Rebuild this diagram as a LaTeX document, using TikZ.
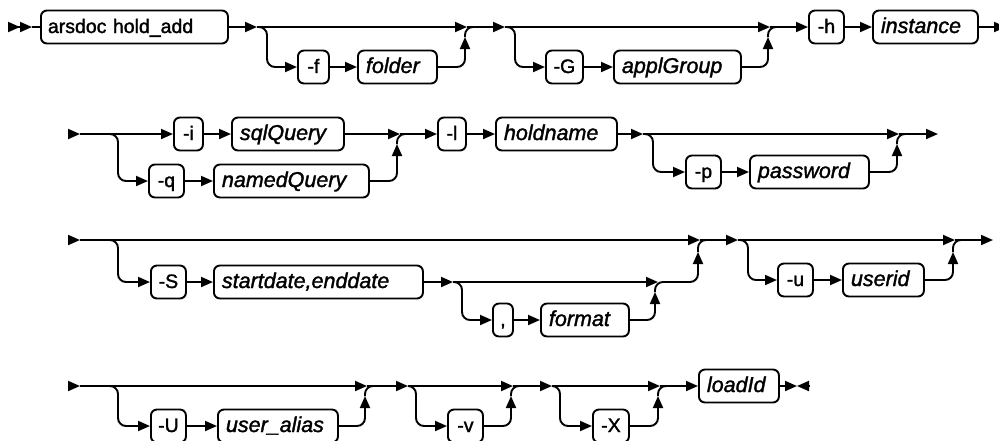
\documentclass[tikz,border=0pt]{standalone}
\usepackage{fontspec}
\setmainfont{Liberation Sans}[FakeBold=1.5]
\newfontfamily\railsf{Liberation Sans}[FakeBold=1.5]
\usetikzlibrary{arrows.meta}
\tikzset{
  rail/.style={line width=1.9pt},
  tip/.style={-{Triangle[length=12pt,width=10pt]}},
  box/.style={draw, line width=1.9pt, rounded corners=6pt, anchor=west, inner xsep=4pt,
    inner ysep=5.5pt, text height=17pt, text depth=5pt, font=\railsf\fontsize{19.5}{26}\selectfont},
  flag/.style={box, minimum width=#1},
  kw/.style={box, inner xsep=7pt, text width=#1, align=left},
  var/.style={box, inner xsep=8pt, text width=#1, align=left,
    font=\normalfont\fontsize{21.5}{26}\selectfont\itshape},
}
\newcommand{\drawrail}{\draw[rail]}
\newcommand{\drawtip}{\draw[rail,tip]}
\newcommand{\drawbend}{\draw[rail,tip,rounded corners=8pt]}
\newcommand{\drawarc}{\draw[rail,rounded corners=8pt]}
\begin{document}
\begin{tikzpicture}[x=1pt,y=-1pt]
\path[use as bounding box,fill=white] (0,0) rectangle (999,440);
% first row
\coordinate (s0) at (8,27); \coordinate (s1) at (32,27);
\coordinate (b1) at (257,27); \coordinate (c1) at (267,67);
\coordinate (u1) at (465,37); \coordinate (j1) at (467,27); \coordinate (k1) at (474,27);
\coordinate (b2) at (505,27); \coordinate (c2) at (515,67);
\coordinate (u2) at (768,37); \coordinate (j2) at (770,27); \coordinate (k2) at (777,27);
\coordinate (r1e) at (1006,27);
\node[kw=173pt] (cmd) at (40,27) {arsdoc hold\_add};
\node[flag=31pt] (f) at (297,67) {-f};
\node[var=63pt] (folder) at (357,67) {folder};
\node[flag=37pt] (G) at (545,67) {-G};
\node[var=111pt] (applGroup) at (613,67) {applGroup};
\node[flag=35pt] (h) at (808,27) {-h};
\node[var=89pt] (instance) at (872,27) {instance};
\draw[rail,-{Triangle[length=12pt,width=10pt]Triangle[length=12pt,width=10pt]}] (s0) -- (s1);
\drawrail (s1) -- (cmd.west);
\drawtip (cmd.east) -- (b1);
\drawtip (b1) -- (j1);
\drawbend (b1) -| (c1) -- (f.west);
\drawtip (f.east) -- (folder.west);
\drawbend (folder.east) -| (u1);
\drawarc (u1) |- (k1);
\drawtip (j1) -- (b2);
\drawtip (b2) -- (j2);
\drawbend (b2) -| (c2) -- (G.west);
\drawtip (G.east) -- (applGroup.west);
\drawbend (applGroup.east) -| (u2);
\drawarc (u2) |- (k2);
\drawtip (j2) -- (h.west);
\drawtip (h.east) -- (instance.west);
\drawtip (instance.east) -- (r1e);
% second row
\coordinate (r2s) at (68,134); \coordinate (r2a) at (80,134);
\coordinate (sp2) at (108,134); \coordinate (c3) at (118,181);
\coordinate (u3) at (397,144); \coordinate (j3) at (400,134); \coordinate (k3) at (406,134);
\coordinate (b4) at (643,134); \coordinate (c4) at (653,172);
\coordinate (u4) at (897,144); \coordinate (j4) at (899,134); \coordinate (k4) at (906,134);
\coordinate (r2e) at (938,134);
\node[flag=29pt] (i) at (173,134) {-i};
\node[var=96pt] (sqlQuery) at (231,134) {sqlQuery};
\node[flag=35pt] (q) at (148,181) {-q};
\node[var=139pt] (namedQuery) at (213,181) {namedQuery};
\node[flag=28pt] (l) at (437,134) {-l};
\node[var=105pt] (holdname) at (495,134) {holdname};
\node[flag=35pt] (p) at (685,172) {-p};
\node[var=103pt] (password) at (749,172) {password};
\drawtip (r2s) -- (r2a);
\drawtip (r2a) -- (i.west);
\drawbend (sp2) -| (c3) -- (q.west);
\drawtip (i.east) -- (sqlQuery.west);
\drawtip (sqlQuery.east) -- (j3);
\drawtip (q.east) -- (namedQuery.west);
\drawbend (namedQuery.east) -| (u3);
\drawarc (u3) |- (k3);
\drawtip (j3) -- (l.west);
\drawtip (l.east) -- (holdname.west);
\drawtip (holdname.east) -- (b4);
\drawtip (b4) -- (j4);
\drawbend (b4) -| (c4) -- (p.west);
\drawtip (p.east) -- (password.west);
\drawbend (password.east) -| (u4);
\drawarc (u4) |- (k4);
\drawtip (j4) -- (r2e);
% third row
\coordinate (r3s) at (68,240); \coordinate (r3a) at (80,240);
\coordinate (sp3) at (108,240); \coordinate (c5) at (118,282);
\coordinate (b6) at (453,282); \coordinate (c6) at (462,320);
\coordinate (u6) at (655,292); \coordinate (j6) at (658,282); \coordinate (k6) at (664,282);
\coordinate (u7) at (698,252); \coordinate (j7) at (700,240); \coordinate (k7) at (707,240);
\coordinate (b8) at (738,240); \coordinate (c8) at (748,280);
\coordinate (u9) at (953,252); \coordinate (j9) at (955,240); \coordinate (k9) at (962,240);
\coordinate (r3e) at (993,240);
\node[flag=35pt] (S) at (150,282) {-S};
\node[var=193pt] (startdate) at (213,282) {startdate,enddate};
\node[flag=20pt] (comma) at (492,320) {,};
\node[var=72pt] (format) at (540,320) {format};
\node[flag=35pt] (uflag) at (777,280) {-u};
\node[var=65pt] (userid) at (842,280) {userid};
\drawtip (r3s) -- (r3a);
\drawtip (r3a) -- (j7);
\drawbend (sp3) -| (c5) -- (S.west);
\drawtip (S.east) -- (startdate.west);
\drawtip (startdate.east) -- (b6);
\drawtip (b6) -- (j6);
\drawbend (b6) -| (c6) -- (comma.west);
\drawtip (comma.east) -- (format.west);
\drawbend (format.east) -| (u6);
\drawarc (u6) |- (k6);
\drawbend (k6) -| (u7);
\drawarc (u7) |- (k7);
\drawtip (j7) -- (b8);
\drawtip (b8) -- (j9);
\drawbend (b8) -| (c8) -- (uflag.west);
\drawtip (uflag.east) -- (userid.west);
\drawbend (userid.east) -| (u9);
\drawarc (u9) |- (k9);
\drawtip (j9) -- (r3e);
% fourth row
\coordinate (r4s) at (68,386); \coordinate (r4a) at (80,386);
\coordinate (sp4) at (108,386); \coordinate (c10) at (118,426);
\coordinate (u10) at (365,396); \coordinate (j10) at (367,386); \coordinate (k10) at (374,386);
\coordinate (b11) at (408,386); \coordinate (c11) at (416,426);
\coordinate (u11) at (511,396); \coordinate (j11) at (513,386); \coordinate (k11) at (520,386);
\coordinate (b12) at (552,386); \coordinate (c12) at (560,426);
\coordinate (u12) at (658,396); \coordinate (j12) at (660,386); \coordinate (k12) at (667,386);
\coordinate (e1) at (797,386); \coordinate (e2) at (809,386);
\node[flag=35pt] (U) at (150,426) {-U};
\node[var=104pt] (useralias) at (217,426) {user\_alias};
\node[flag=35pt] (v) at (447,426) {-v};
\node[flag=36pt] (X) at (592,426) {-X};
\node[var=64pt] (loadId) at (698,386) {loadId};
\drawtip (r4s) -- (r4a);
\drawtip (r4a) -- (j10);
\drawbend (sp4) -| (c10) -- (U.west);
\drawtip (U.east) -- (useralias.west);
\drawbend (useralias.east) -| (u10);
\drawarc (u10) |- (k10);
\drawtip (j10) -- (b11);
\drawtip (b11) -- (j11);
\drawbend (b11) -| (c11) -- (v.west);
\drawbend (v.east) -| (u11);
\drawarc (u11) |- (k11);
\drawtip (j11) -- (b12);
\drawtip (b12) -- (j12);
\drawbend (b12) -| (c12) -- (X.west);
\drawbend (X.east) -| (u12);
\drawarc (u12) |- (k12);
\drawtip (j12) -- (loadId.west);
\drawtip (loadId.east) -- (e1);
\drawtip (e2) -- (e1);
\end{tikzpicture}
\end{document}
